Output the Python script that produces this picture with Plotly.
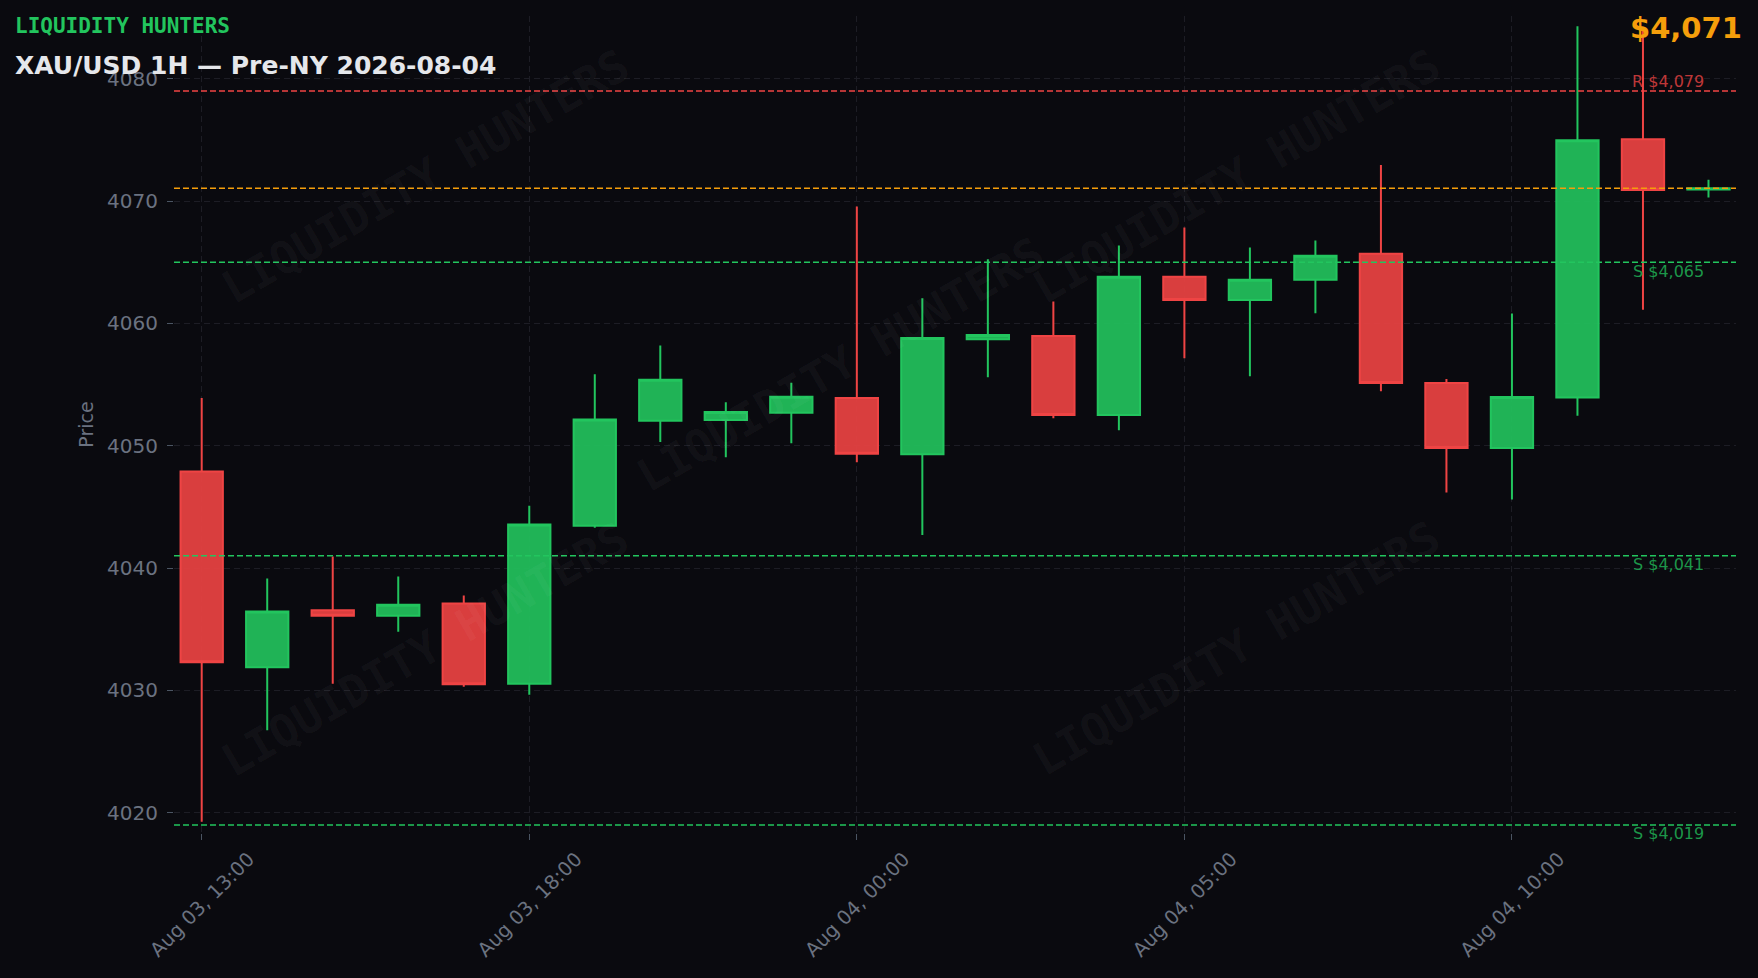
import plotly.graph_objects as go

# ---------------- data ----------------
times = [
    "Aug 03, 13:00", "Aug 03, 14:00", "Aug 03, 15:00", "Aug 03, 16:00",
    "Aug 03, 17:00", "Aug 03, 18:00", "Aug 03, 19:00", "Aug 03, 20:00",
    "Aug 03, 22:00", "Aug 03, 23:00", "Aug 04, 00:00", "Aug 04, 01:00",
    "Aug 04, 02:00", "Aug 04, 03:00", "Aug 04, 04:00", "Aug 04, 05:00",
    "Aug 04, 06:00", "Aug 04, 07:00", "Aug 04, 08:00", "Aug 04, 09:00",
    "Aug 04, 10:00", "Aug 04, 11:00", "Aug 04, 12:00", "Aug 04, 13:00",
]
opens = [4047.9, 4031.9, 4036.55, 4036.1, 4037.1, 4030.55, 4043.45, 4052.05,
         4052.1, 4052.7, 4053.9, 4049.3, 4058.7, 4058.97, 4052.52, 4063.81,
         4061.92, 4063.56, 4065.69, 4055.13, 4049.81, 4053.94, 4075.05, 4070.95]
highs = [4053.9, 4039.15, 4040.95, 4039.3, 4037.75, 4045.1, 4055.85, 4058.2,
         4053.55, 4055.15, 4069.55, 4062.05, 4065.25, 4061.8, 4066.37, 4067.84,
         4066.21, 4066.78, 4072.95, 4055.46, 4060.8, 4084.3, 4084.0, 4071.74]
lows = [4019.25, 4026.75, 4030.55, 4034.8, 4030.3, 4029.65, 4043.3, 4050.3,
        4049.05, 4050.2, 4048.65, 4042.7, 4055.6, 4052.25, 4051.26, 4057.15,
        4055.68, 4060.83, 4054.45, 4046.18, 4045.61, 4052.45, 4061.11, 4070.3]
closes = [4032.3, 4036.45, 4036.1, 4037.0, 4030.5, 4043.55, 4052.15, 4055.4,
          4052.75, 4054.0, 4049.35, 4058.8, 4059.05, 4052.52, 4063.81, 4061.92,
          4063.56, 4065.53, 4055.13, 4049.81, 4053.98, 4074.97, 4070.9, 4071.05]

tick_labels = ["Aug 03, 13:00", "Aug 03, 18:00", "Aug 04, 00:00",
               "Aug 04, 05:00", "Aug 04, 10:00"]

level_kinds = ["R", "S", "S", "S"]
level_prices = [4079, 4065, 4041, 4019]
current_price = 4071.05

brand = "LIQUIDITY HUNTERS"
title_text = "XAU/USD 1H — Pre-NY 2026-08-04"

# watermark positions (paper fractions)
wm_x = [0.161, 0.161, 0.427, 0.680, 0.680]
wm_y = [0.804, 0.224, 0.574, 0.804, 0.226]

# ---------------- style ----------------
BG = "#0a0a0f"
GREEN = "#22c55e"
RED = "#ef4444"
ORANGE = "#f59e0b"
GRAY = "#6b7280"
GRID = "#1d1d25"

fig = go.Figure()
fig.add_trace(go.Candlestick(
    x=times, open=opens, high=highs, low=lows, close=closes,
    increasing=dict(line=dict(color=GREEN, width=2), fillcolor="rgba(34,197,94,0.9)"),
    decreasing=dict(line=dict(color=RED, width=2), fillcolor="rgba(239,68,68,0.9)"),
    whiskerwidth=0, showlegend=False, name="XAU/USD",
))

shapes = []
annotations = []
for kind, price in zip(level_kinds, level_prices):
    col = RED if kind == "R" else GREEN
    shapes.append(dict(type="line", xref="paper", x0=0, x1=1, yref="y", y0=price, y1=price,
                       line=dict(color=col, width=1.5, dash="6px,3px")))
    annotations.append(dict(
        x=times[-1], xref="x", y=price, yref="y",
        text=f"{kind} ${price:,.0f}", showarrow=False,
        xanchor="right", yanchor="bottom" if kind == "R" else "top",
        xshift=-2, yshift=-2.5 if kind == "R" else 2.5,
        font=dict(size=16, color=("rgba(239,68,68,0.8)" if kind == "R" else "rgba(34,197,94,0.75)")),
    ))

shapes.append(dict(type="line", xref="paper", x0=0, x1=1, yref="y",
                   y0=current_price, y1=current_price,
                   line=dict(color=ORANGE, width=1.5, dash="6px,3px")))

annotations.append(dict(
    x=1, xref="paper", y=1, yref="paper", xanchor="right", yanchor="middle",
    xshift=8, yshift=-12, showarrow=False,
    text=f"${current_price:,.0f}",
    font=dict(size=29, color=ORANGE, family="DejaVu Sans", weight="bold"),
))
annotations.append(dict(
    x=0, xref="paper", y=1, yref="paper", xanchor="left", yanchor="middle",
    xshift=-161, yshift=-10, showarrow=False, text=brand,
    font=dict(size=21, color=GREEN, family="DejaVu Sans Mono", weight="bold"),
))
annotations.append(dict(
    x=0, xref="paper", y=1, yref="paper", xanchor="left", yanchor="middle",
    xshift=-161, yshift=-49, showarrow=False, text=title_text,
    font=dict(size=25, color="#e5e7eb", family="DejaVu Sans", weight="bold"),
))
for wx, wy in zip(wm_x, wm_y):
    annotations.append(dict(
        x=wx, xref="paper", y=wy, yref="paper", xanchor="center", yanchor="middle",
        showarrow=False, text=brand, textangle=-30,
        font=dict(size=45, color="rgba(255,255,255,0.045)", family="DejaVu Sans Mono", weight="bold"),
    ))

fig.update_layout(
    width=1758, height=978,
    margin=dict(l=174, r=22, t=16, b=145),
    paper_bgcolor=BG, plot_bgcolor=BG,
    font=dict(family="DejaVu Sans", color=GRAY),
    showlegend=False,
    shapes=shapes, annotations=annotations,
    xaxis_rangeslider_visible=False,
    boxgap=0.354, boxgroupgap=0,
)
fig.update_xaxes(
    type="category", range=[-0.423, 23.42],
    tickmode="array", tickvals=tick_labels, ticktext=tick_labels,
    tickangle=-45, tickfont=dict(size=19.5, color=GRAY),
    ticklabelshift=47,
    ticks="outside", ticklen=6, tickcolor="#4b5563",
    showgrid=True, gridcolor=GRID, gridwidth=1, griddash="6px,4px",
    zeroline=False, showline=False,
)
fig.update_yaxes(
    range=[4018.34, 4085.13], tick0=4020, dtick=10,
    tickfont=dict(size=20, color=GRAY),
    ticklabelstandoff=5,
    ticks="outside", ticklen=6, tickcolor="#4b5563",
    showgrid=True, gridcolor=GRID, gridwidth=1, griddash="6px,4px",
    zeroline=False, showline=False, automargin=False,
    title=dict(text="Price", font=dict(size=19, color=GRAY), standoff=8),
)

fig.write_html("out.html", config={"displayModeBar": False},
               post_script="document.body.style.margin='0';document.body.style.overflow='hidden';")
